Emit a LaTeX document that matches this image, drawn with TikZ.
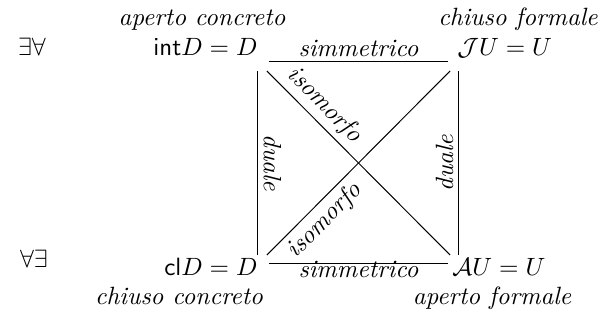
\documentclass[tikz,border=0pt]{standalone}
\usepackage{amsmath}
\usepackage{tikz}
\usetikzlibrary{positioning}
\tikzset{
  corner/.style={rectangle,inner sep=0pt,minimum width=8.4pt,minimum height=6.8pt},
  formula/.style={inner sep=0pt},
  tag/.style={inner sep=0pt,font=\itshape},
  rel/.style={inner sep=2pt,font=\itshape},
  link/.style={draw=black,line width=0.4pt}
}

\begin{document}
\begin{tikzpicture}[x=0.4pt,y=-0.4pt]
  \useasboundingbox (0,0) rectangle (602,320);
  % corners of the square
  \node[corner] (tl) at (258,62) {};
  \node[corner] (tr) at (459,62) {};
  \node[corner] (bl) at (258,264) {};
  \node[corner] (br) at (459,264) {};

  \node[formula,anchor=base east] (intD) at (258,55) {$\mathsf{int}D = D$};
  \node[formula,anchor=base west] (JU) at (457,55) {$\mathcal{J}U = U$};
  \node[formula,anchor=base east] (clD) at (258,275) {$\mathsf{cl}D = D$};
  \node[formula,anchor=base west] (AU) at (452,275) {$\mathcal{A}U = U$};

  \node[formula,anchor=base] (ea) at (32,55) {$\exists\forall$};
  \node[formula,anchor=base] (ae) at (34,267) {$\forall\exists$};

  \node[tag,anchor=base] (apconc) at (202,25) {aperto concreto};
  \node[tag,anchor=base] (chform) at (518,25) {chiuso formale};
  \node[tag,anchor=base] (chconc) at (179,305) {chiuso concreto};
  \node[tag,anchor=base] (apform) at (492,305) {aperto formale};

  \draw[link] (tl) -- node[rel,above] {simmetrico} (tr);
  \draw[link] (bl) -- node[rel,below,inner sep=0pt,yshift=1.5pt] {simmetrico} (br);
  \draw[link] (tl) -- node[rel,sloped,above] {duale} (bl);
  \draw[link] (br) -- node[rel,sloped,above] {duale} (tr);
  \draw[link] (tl) -- node[rel,sloped,above,pos=0.25] {isomorfo} (br);
  \draw[link] (bl) -- node[rel,sloped,below,pos=0.25] {isomorfo} (tr);
\end{tikzpicture}
\end{document}
